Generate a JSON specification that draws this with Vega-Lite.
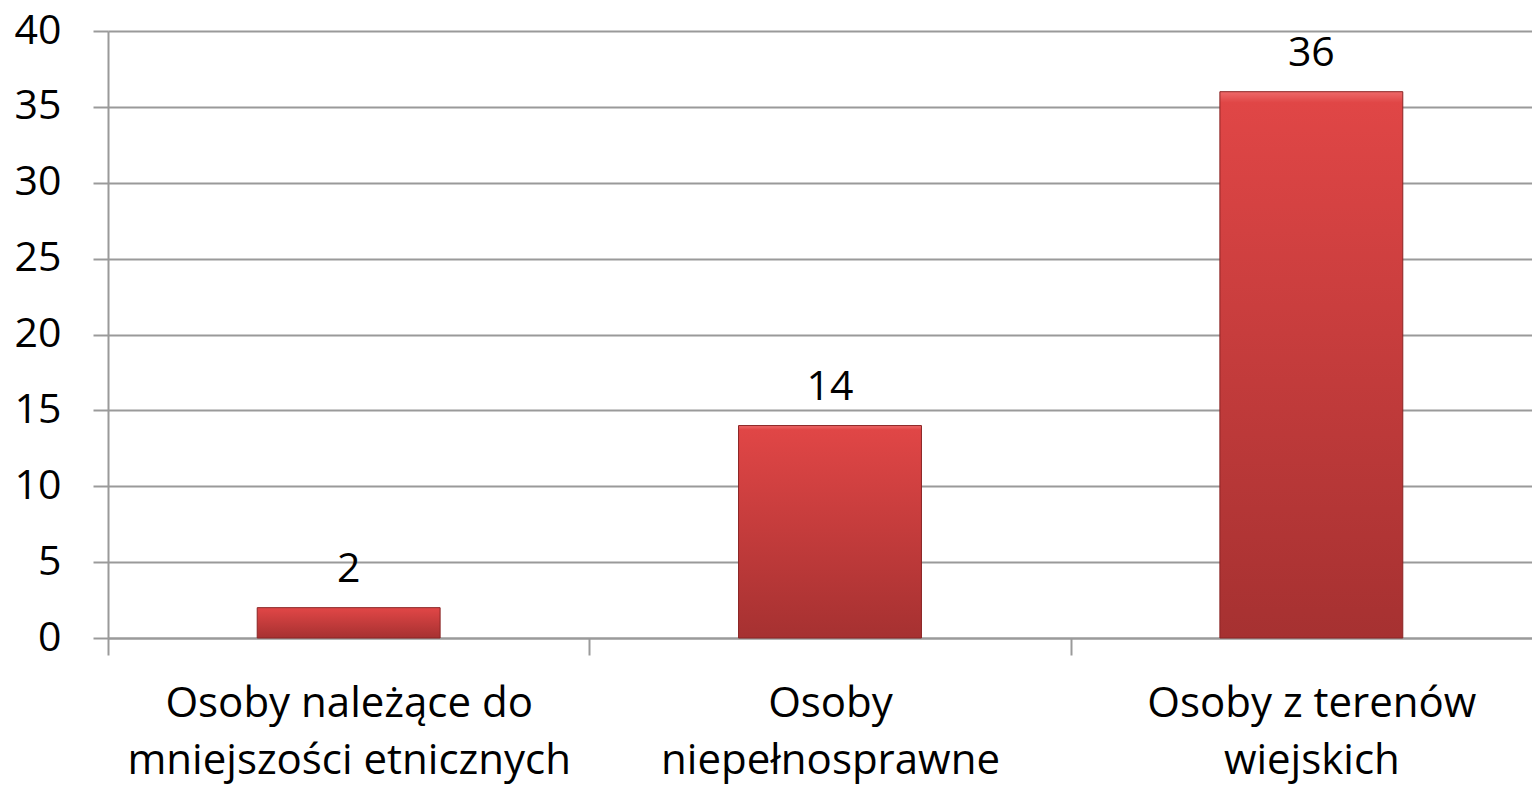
{
  "$schema": "https://vega.github.io/schema/vega-lite/v6.json",
  "autosize": "none",
  "width": 1444,
  "height": 607,
  "padding": {"left": 108, "top": 31, "right": 0, "bottom": 149},
  "background": "white",
  "config": {"view": {"stroke": null}, "font": "Open Sans"},
  "data": {"values": [
    {"kategoria": "Osoby należące do mniejszości etnicznych", "liczba": 2},
    {"kategoria": "Osoby niepełnosprawne", "liczba": 14},
    {"kategoria": "Osoby z terenów wiejskich", "liczba": 36}
  ]},
  "encoding": {
    "x": {"field": "kategoria", "type": "nominal", "sort": null,
      "scale": {"paddingInner": 0, "paddingOuter": 0},
      "axis": {"title": null, "labelAngle": 0, "tickBand": "extent", "grid": false,
        "domainColor": "#9a9a9a", "domainWidth": 2, "tickColor": "#9a9a9a", "tickWidth": 2, "tickSize": 17,
        "labelFontSize": 42, "labelColor": "#000000", "labelPadding": 28, "labelLineHeight": 57,
        "labelBaseline": "top", "labelLimit": 0,
        "labelExpr": "datum.label == 'Osoby należące do mniejszości etnicznych' ? ['Osoby należące do', 'mniejszości etnicznych'] : datum.label == 'Osoby niepełnosprawne' ? ['Osoby', 'niepełnosprawne'] : datum.label == 'Osoby z terenów wiejskich' ? ['Osoby z terenów', 'wiejskich'] : ''"}},
    "y": {"field": "liczba", "type": "quantitative",
      "scale": {"domain": [0, 40]},
      "axis": {"title": null, "values": [0, 5, 10, 15, 20, 25, 30, 35, 40],
        "domainColor": "#9a9a9a", "domainWidth": 2, "tickColor": "#9a9a9a", "tickWidth": 2, "tickSize": 15,
        "gridColor": "#9a9a9a", "gridWidth": 2,
        "labelFontSize": 41, "labelColor": "#000000", "labelPadding": 32}}
  },
  "layer": [
    {"mark": {"type": "bar", "width": {"band": 0.38}, "stroke": "#8a2424", "strokeWidth": 1,
      "color": {"gradient": "linear", "x1": 0, "y1": 0, "x2": 0, "y2": 1,
        "stops": [{"offset": 0, "color": "#ee6a6a"}, {"offset": 0.02, "color": "#e04646"}, {"offset": 1, "color": "#a63131"}]}}},
    {"mark": {"type": "text", "baseline": "bottom", "dy": -17, "fontSize": 41, "color": "#000000"},
      "encoding": {"text": {"field": "liczba", "type": "quantitative"}}}
  ]
}
